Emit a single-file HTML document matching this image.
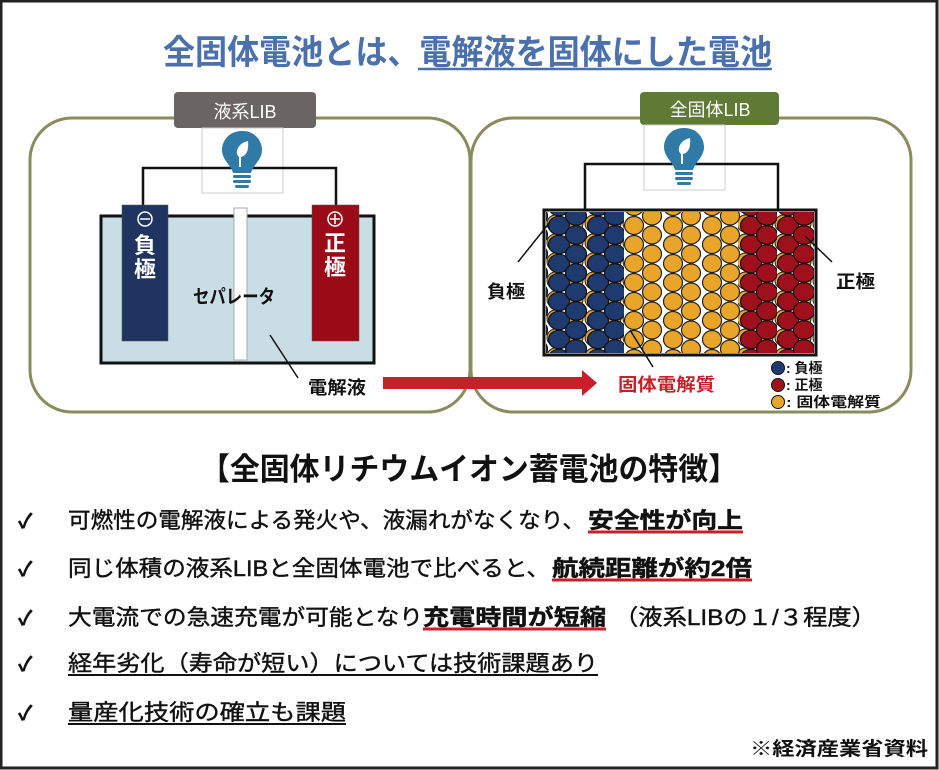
<!DOCTYPE html>
<html><head><meta charset="utf-8"><style>
html,body{margin:0;padding:0;background:#fff}
svg{display:block}
text{font-family:"Liberation Sans","Noto Sans CJK JP",sans-serif}
</style></head><body>
<svg width="939" height="770" viewBox="0 0 939 770" xmlns="http://www.w3.org/2000/svg">
<defs>
<pattern id="yb" x="546" y="214" width="19" height="19" patternUnits="userSpaceOnUse">
<circle cx="9.5" cy="9.5" r="8.5" fill="#e8a52a" stroke="#222" stroke-width="1"/></pattern>
<pattern id="yel" x="624" y="216" width="39" height="19" patternUnits="userSpaceOnUse">
<ellipse cx="10" cy="9.5" rx="9.5" ry="9" fill="#e8a52a" stroke="#222" stroke-width="1.2"/>
<ellipse cx="28" cy="0" rx="9.5" ry="9" fill="#e8a52a" stroke="#222" stroke-width="1.2"/>
<ellipse cx="28" cy="19" rx="9.5" ry="9" fill="#e8a52a" stroke="#222" stroke-width="1.2"/></pattern>
<pattern id="blu" x="548" y="216" width="39" height="19" patternUnits="userSpaceOnUse">
<ellipse cx="11" cy="9.5" rx="10.5" ry="9.2" fill="#1f3a6e" stroke="#111" stroke-width="1.2"/>
<ellipse cx="28" cy="0" rx="10.5" ry="9.2" fill="#1f3a6e" stroke="#111" stroke-width="1.2"/>
<ellipse cx="28" cy="19" rx="10.5" ry="9.2" fill="#1f3a6e" stroke="#111" stroke-width="1.2"/></pattern>
<pattern id="red" x="740" y="216" width="37" height="19" patternUnits="userSpaceOnUse">
<ellipse cx="11" cy="9.5" rx="10.5" ry="9.2" fill="#a0101c" stroke="#111" stroke-width="1.2"/>
<ellipse cx="27" cy="0" rx="10.5" ry="9.2" fill="#a0101c" stroke="#111" stroke-width="1.2"/>
<ellipse cx="27" cy="19" rx="10.5" ry="9.2" fill="#a0101c" stroke="#111" stroke-width="1.2"/></pattern>
<g id="bulb">
<path d="M0,-26 C-14,-26 -20,-15 -20,-7 C-20,3 -11,8 -9,16 L9,16 C11,8 20,3 20,-7 C20,-15 14,-26 0,-26 Z" fill="#2f7aa6"/>
<path d="M-3,10 L-3,0 C-8,-4 -4,-14 6,-16 C7,-6 4,-1 -1,0 L-1,10 Z" fill="#fff"/>
<rect x="-9" y="18" width="18" height="3" rx="1.5" fill="#2f7aa6"/>
<rect x="-9" y="23" width="18" height="3" rx="1.5" fill="#2f7aa6"/>
<rect x="-7" y="28" width="14" height="3" rx="1.5" fill="#2f7aa6"/>
</g>
</defs>

<text x="163" y="64" font-size="34" font-weight="700" fill="#4a70ad" textLength="609" lengthAdjust="spacingAndGlyphs">全固体電池とは、電解液を固体にした電池</text>
<line x1="418" y1="69" x2="772" y2="69" stroke="#4a70ad" stroke-width="2.5"/>

<rect x="30" y="118" width="440" height="294" rx="42" fill="#fff" stroke="#8b8c5e" stroke-width="3"/>
<rect x="471" y="118" width="440" height="294" rx="42" fill="#fff" stroke="#8b8c5e" stroke-width="3"/>

<rect x="174" y="92" width="142" height="36" rx="4" fill="#6a6465"/>
<text x="245" y="118" font-size="18" fill="#fff" text-anchor="middle">液系LIB</text>
<rect x="202" y="128" width="81" height="65" fill="#fff" stroke="#ccc"/>
<rect x="101" y="216" width="273" height="147" fill="#c9dde5" stroke="#111" stroke-width="3"/>
<polyline points="143,205 143,168 336,168 336,205" fill="none" stroke="#111" stroke-width="2.5"/>
<use href="#bulb" x="242" y="157"/>
<rect x="122" y="205" width="46" height="136" fill="#1f3461" stroke="#555" stroke-width="0.5"/>
<rect x="312" y="205" width="47" height="136" fill="#9b0a17" stroke="#555" stroke-width="0.5"/>
<rect x="234" y="208" width="13" height="152" fill="#fff" stroke="#aaa"/>
<circle cx="145" cy="219" r="7" fill="none" stroke="#fff" stroke-width="1.5"/><line x1="140" y1="219" x2="150" y2="219" stroke="#fff" stroke-width="1.5"/>
<circle cx="335" cy="219" r="7" fill="none" stroke="#fff" stroke-width="1.5"/><line x1="330" y1="219" x2="340" y2="219" stroke="#fff" stroke-width="1.5"/><line x1="335" y1="214" x2="335" y2="224" stroke="#fff" stroke-width="1.5"/>
<text x="145" y="253" font-size="22" font-weight="700" fill="#fff" text-anchor="middle">負</text>
<text x="145" y="277" font-size="22" font-weight="700" fill="#fff" text-anchor="middle">極</text>
<text x="335" y="251" font-size="22" font-weight="700" fill="#fff" text-anchor="middle">正</text>
<text x="335" y="275" font-size="22" font-weight="700" fill="#fff" text-anchor="middle">極</text>
<text x="193" y="303" font-size="19" font-weight="700" fill="#111" textLength="82" lengthAdjust="spacingAndGlyphs">セパレータ</text>
<line x1="270" y1="335" x2="298" y2="378" stroke="#111" stroke-width="1.5"/>
<text x="308" y="394" font-size="18" font-weight="700" fill="#111" textLength="58" lengthAdjust="spacingAndGlyphs">電解液</text>

<polygon points="383,377 582,377 582,370 597,383 582,396 582,389 383,389" fill="#c8202a"/>

<rect x="640" y="92" width="139" height="33" rx="4" fill="#5f7a35"/>
<text x="710" y="116" font-size="18" fill="#fff" text-anchor="middle">全固体LIB</text>
<rect x="644" y="125" width="81" height="65" fill="#fff" stroke="#ccc"/>
<polyline points="585,209 585,164 778,164 778,209" fill="none" stroke="#111" stroke-width="2.5"/>
<use href="#bulb" x="684" y="154"/>
<rect x="544" y="210" width="272" height="145" fill="#fff"/>
<rect x="546" y="212" width="78" height="141" fill="url(#yb)"/>
<rect x="738" y="212" width="76" height="141" fill="url(#yb)"/>
<rect x="546" y="212" width="78" height="141" fill="url(#blu)"/>
<rect x="624" y="212" width="116" height="141" fill="url(#yel)"/>
<rect x="740" y="212" width="74" height="141" fill="url(#red)"/>
<rect x="544" y="210" width="272" height="145" fill="none" stroke="#111" stroke-width="3"/>
<line x1="518" y1="262" x2="550" y2="222" stroke="#111" stroke-width="1.5"/>
<line x1="832" y1="262" x2="805" y2="236" stroke="#111" stroke-width="1.5"/>
<line x1="653" y1="367" x2="630" y2="330" stroke="#111" stroke-width="1.5"/>
<text x="487" y="298" font-size="18" font-weight="700" fill="#111" textLength="38" lengthAdjust="spacingAndGlyphs">負極</text>
<text x="836" y="288" font-size="18" font-weight="700" fill="#111" textLength="39" lengthAdjust="spacingAndGlyphs">正極</text>
<text x="618" y="391" font-size="18" font-weight="700" fill="#c8202a" textLength="97" lengthAdjust="spacingAndGlyphs">固体電解質</text>
<circle cx="778" cy="368" r="6.5" fill="#1f3a6e" stroke="#111"/>
<circle cx="778" cy="385" r="6.5" fill="#a0101c" stroke="#111"/>
<circle cx="778" cy="402" r="6.5" fill="#e8a52a" stroke="#111"/>
<text x="786" y="373" font-size="14" font-weight="700" fill="#111">: 負極</text>
<text x="786" y="390" font-size="14" font-weight="700" fill="#111">: 正極</text>
<text x="786" y="407" font-size="14" font-weight="700" fill="#111" textLength="95" lengthAdjust="spacingAndGlyphs">: 固体電解質</text>

<text x="200" y="480" font-size="31" font-weight="700" fill="#111" textLength="538" lengthAdjust="spacingAndGlyphs">【全固体リチウムイオン蓄電池の特徴】</text>
<g font-size="22" fill="#111" stroke="#111" stroke-width="0.4">
<text x="18" y="528" font-size="20" font-weight="700">✓</text>
<text x="18" y="576" font-size="20" font-weight="700">✓</text>
<text x="18" y="625" font-size="20" font-weight="700">✓</text>
<text x="18" y="671" font-size="20" font-weight="700">✓</text>
<text x="18" y="720" font-size="20" font-weight="700">✓</text>

<text x="68" y="528" textLength="517" lengthAdjust="spacingAndGlyphs">可燃性の電解液による発火や、液漏れがなくなり、</text>
<text x="588" y="528" font-weight="700" textLength="155" lengthAdjust="spacingAndGlyphs">安全性が向上</text>
<line x1="588" y1="532" x2="743" y2="532" stroke="#c8202a" stroke-width="3"/>

<text x="68" y="576" textLength="482" lengthAdjust="spacingAndGlyphs">同じ体積の液系LIBと全固体電池で比べると、</text>
<text x="552" y="576" font-weight="700" textLength="200" lengthAdjust="spacingAndGlyphs">航続距離が約2倍</text>
<line x1="552" y1="580" x2="752" y2="580" stroke="#c8202a" stroke-width="3"/>

<text x="68" y="625" textLength="355" lengthAdjust="spacingAndGlyphs">大電流での急速充電が可能となり</text>
<text x="423" y="625" font-weight="700" textLength="183" lengthAdjust="spacingAndGlyphs">充電時間が短縮</text>
<line x1="423" y1="629" x2="606" y2="629" stroke="#c8202a" stroke-width="3"/>
<text x="614" y="625" textLength="262" lengthAdjust="spacingAndGlyphs">（液系LIBの１/３程度）</text>

<text x="68" y="671" textLength="530" lengthAdjust="spacingAndGlyphs">経年劣化（寿命が短い）については技術課題あり</text>
<line x1="68" y1="675" x2="598" y2="675" stroke="#111" stroke-width="2"/>
<text x="68" y="720" textLength="278" lengthAdjust="spacingAndGlyphs">量産化技術の確立も課題</text>
<line x1="68" y1="724" x2="346" y2="724" stroke="#111" stroke-width="2"/>
</g>
<text x="750" y="755" font-size="19" font-weight="700" fill="#111" textLength="178" lengthAdjust="spacingAndGlyphs">※経済産業省資料</text>

<rect x="1" y="1" width="936" height="767" fill="none" stroke="#222" stroke-width="3"/>
</svg>
</body></html>
